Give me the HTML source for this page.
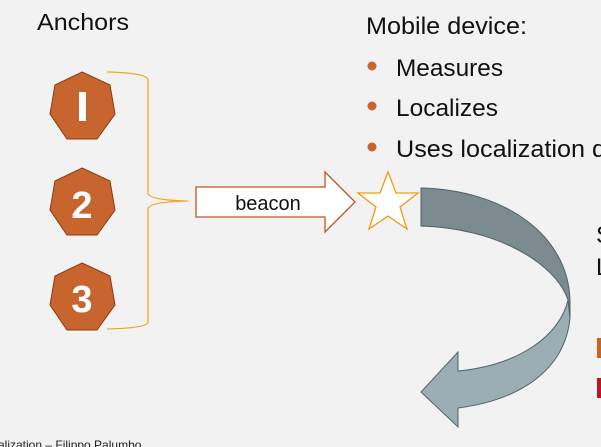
<!DOCTYPE html>
<html><head><style>html,body{margin:0;padding:0;background:#f2f2f2;}svg{display:block}</style></head>
<body>
<svg width="601" height="447" viewBox="0 0 601 447" xmlns="http://www.w3.org/2000/svg" font-family="Liberation Sans, sans-serif">
<rect width="601" height="447" fill="#f2f2f2"/>
<text x="37" y="30" font-size="23" fill="#111" textLength="92" lengthAdjust="spacingAndGlyphs">Anchors</text>
<text x="366" y="34" font-size="24" fill="#111" textLength="161" lengthAdjust="spacingAndGlyphs">Mobile device:</text>
<circle cx="372" cy="66" r="4.5" fill="#c8652e"/>
<circle cx="372" cy="106" r="4.5" fill="#c8652e"/>
<circle cx="372" cy="147" r="4.5" fill="#c8652e"/>
<text x="396" y="76" font-size="24" fill="#111" textLength="107" lengthAdjust="spacingAndGlyphs">Measures</text>
<text x="396" y="116" font-size="24" fill="#111" textLength="102" lengthAdjust="spacingAndGlyphs">Localizes</text>
<text x="396" y="157" font-size="24" fill="#111" textLength="210" lengthAdjust="spacingAndGlyphs">Uses localization d</text>
<text x="596" y="243" font-size="24" fill="#111">S</text>
<text x="596" y="275" font-size="24" fill="#111">L</text>
<rect x="597" y="338" width="4" height="20" fill="#d0601e"/>
<rect x="597" y="378" width="4" height="20" fill="#c0141a"/>
<g fill="#c8652e" stroke="#8b3a10" stroke-width="1">
<polygon points="82,72 110,85 115,114 97,139 67,139 50,114 55,85"/>
<polygon points="82,168 110,181 115,210 97,235 67,235 50,210 55,181"/>
<polygon points="82,263 110,276 115,305 97,330 67,330 50,305 55,276"/>
</g>
<g fill="#fff" font-weight="bold" font-size="38" text-anchor="middle">
<rect x="79" y="92" width="7" height="29" stroke="none"/>
<text x="82" y="218">2</text>
<text x="82" y="312">3</text>
</g>
<path d="M107,72 Q148,73 148,80 L148,193 Q148,200 188,201 Q148,202 148,209 L148,322 Q148,328 107,329" fill="none" stroke="#f2a722" stroke-width="1.3"/>
<polygon points="196,187 325,187 325,172 355,202 325,232 325,217 196,217" fill="#fff" stroke="#c0581e" stroke-width="1.3"/>
<text x="268" y="210" font-size="20" fill="#111" text-anchor="middle">beacon</text>
<polygon points="388,172 396,193 418,193 400,207 407,229 388,216 369,229 376,207 358,193 380,193" fill="#fff" stroke="#f29a10" stroke-width="1.3"/>
<path d="M458,408 L458,427 L421,392 L458,352 L458,371 C520,365 560,335 568,300 L570,300 L570,318 C565,370 520,400 458,408 Z" fill="#9aaeb3" stroke="#4e6266" stroke-width="1"/>
<path d="M421,188 C505,190 568,235 570,300 L570,318 L568,300 C555,262 495,228 421,226 Z" fill="#7b8b8f" stroke="#4e6266" stroke-width="1"/>
<text x="-2" y="449" font-size="12" fill="#222">alization – Filippo Palumbo</text>
</svg>
</body></html>
